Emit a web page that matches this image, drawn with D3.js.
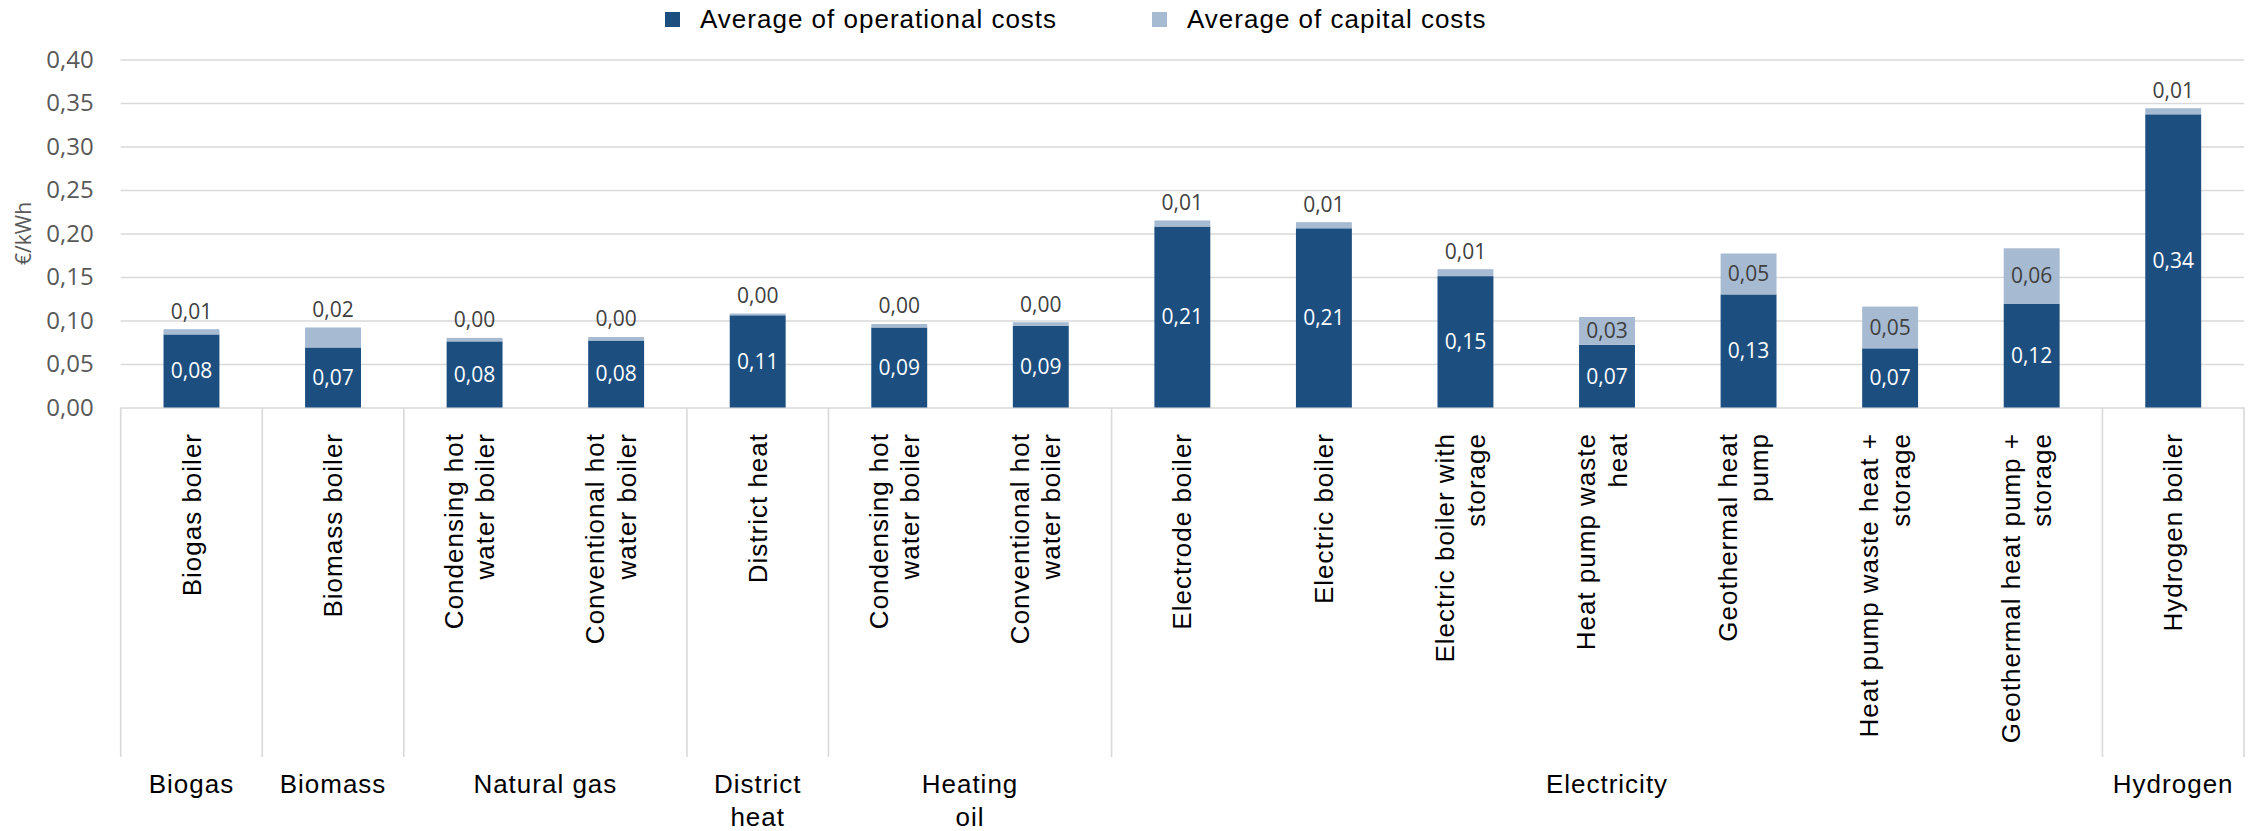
<!DOCTYPE html>
<html>
<head>
<meta charset="utf-8">
<script src="https://cdn.jsdelivr.net/npm/d3@7"></script>
<style>
  body { margin: 0; background: #fff; }
  svg { display: block; }
</style>
</head>
<body>
<svg id="svg"></svg>
<script>
// values (€/kWh)
var catLabels = [
  ["Biogas boiler"],
  ["Biomass boiler"],
  ["Condensing hot", "water boiler"],
  ["Conventional hot", "water boiler"],
  ["District heat"],
  ["Condensing hot", "water boiler"],
  ["Conventional hot", "water boiler"],
  ["Electrode boiler"],
  ["Electric boiler"],
  ["Electric boiler with", "storage"],
  ["Heat pump waste", "heat"],
  ["Geothermal heat", "pump"],
  ["Heat pump waste heat +", "storage"],
  ["Geothermal heat pump +", "storage"],
  ["Hydrogen boiler"]
];
var opCosts  = [0.084, 0.069, 0.076, 0.077, 0.106, 0.092, 0.094, 0.208, 0.206, 0.151, 0.072, 0.130, 0.068, 0.119, 0.337];
var capCosts = [0.006, 0.023, 0.004, 0.004, 0.002, 0.004, 0.004, 0.007, 0.007, 0.008, 0.032, 0.047, 0.048, 0.064, 0.007];

var groupLabels = [["Biogas"], ["Biomass"], ["Natural gas"], ["District", "heat"], ["Heating", "oil"], ["Electricity"], ["Hydrogen"]];
var groupSizes  = [1, 1, 2, 1, 2, 7, 1];

var yTicks = [0, 0.05, 0.10, 0.15, 0.20, 0.25, 0.30, 0.35, 0.40];
var seriesNames = ["Average of operational costs", "Average of capital costs"];

var width = 2255, height = 831;
var darkBlue = "#1d4e80", lightBlue = "#a6bad2", gridCol = "#d9d9d9";
var arial = "'Liberation Sans', Arial, sans-serif";
var segoe = "'Open Sans', 'Segoe UI', sans-serif";

var svg = d3.select("#svg").attr("width", width).attr("height", height);

var plotLeft = 120.7, plotRight = 2244;

var x = d3.scaleBand()
    .domain(d3.range(catLabels.length))
    .range([plotLeft, plotRight])
    .paddingInner(0.605)
    .paddingOuter(0.3025);

var y = d3.scaleLinear().domain([0, 0.4]).range([407.5, 59.5]);

var fmt = function(v){ return d3.format(".2f")(v).replace(".", ","); };

// gridlines + y tick labels
var yAxis = svg.append("g")
    .attr("transform", "translate(" + plotLeft + ",0)")
    .call(d3.axisLeft(y).tickValues(yTicks).tickFormat(fmt)
      .tickSize(-(plotRight - plotLeft)).tickPadding(27));
yAxis.select(".domain").remove();
yAxis.selectAll(".tick line").attr("stroke", gridCol).attr("stroke-width", 1.6);
yAxis.selectAll(".tick text")
    .attr("fill", "#595959")
    .style("font-family", segoe)
    .style("font-size", "24px");

// y title
svg.append("text")
    .attr("transform", "translate(24," + y(0.2) + ") rotate(-90)")
    .attr("text-anchor", "middle")
    .attr("dy", "0.35em")
    .attr("fill", "#595959")
    .style("font-family", segoe)
    .style("font-size", "21px")
    .text("€/kWh");

// group separators below the axis
var bounds = [0].concat(Array.from(d3.cumsum(groupSizes)));
svg.append("g").selectAll("line")
  .data(bounds)
  .enter().append("line")
    .attr("x1", function(k){ return plotLeft + k * x.step(); })
    .attr("x2", function(k){ return plotLeft + k * x.step(); })
    .attr("y1", y(0))
    .attr("y2", 757)
    .attr("stroke", gridCol)
    .attr("stroke-width", 1.6);

// stacked bars
var rows = opCosts.map(function(v, i){ return { i: i, op: v, cap: capCosts[i] }; });
var stack = d3.stack().keys(["op", "cap"])(rows);
var colors = [darkBlue, lightBlue];

var layer = svg.append("g").selectAll("g")
  .data(stack)
  .enter().append("g")
    .attr("fill", function(d, i){ return colors[i]; });

layer.selectAll("rect")
  .data(function(d){ return d; })
  .enter().append("rect")
    .attr("x", function(d){ return x(d.data.i); })
    .attr("width", x.bandwidth())
    .attr("y", function(d){ return y(d[1]); })
    .attr("height", function(d){ return y(d[0]) - y(d[1]); });

// value labels
svg.append("g").selectAll("text")
  .data(stack[0])
  .enter().append("text")
    .attr("x", function(d){ return x(d.data.i) + x.bandwidth() / 2; })
    .attr("y", function(d){ return (y(d[0]) + y(d[1])) / 2; })
    .attr("dy", "0.35em")
    .attr("text-anchor", "middle")
    .attr("fill", "#fff")
    .style("font-family", segoe)
    .style("font-size", "21px")
    .text(function(d){ return fmt(d.data.op); });

svg.append("g").selectAll("text")
  .data(stack[1])
  .enter().append("text")
    .attr("x", function(d){ return x(d.data.i) + x.bandwidth() / 2; })
    .attr("y", function(d){
      var h = y(d[0]) - y(d[1]);
      if (h < 24) return y(d[1]) - 18;
      return (y(d[0]) + y(d[1])) / 2;
    })
    .attr("dy", "0.35em")
    .attr("text-anchor", "middle")
    .attr("fill", "#404040")
    .style("font-family", segoe)
    .style("font-size", "21px")
    .text(function(d){ return fmt(d.data.cap); });

// rotated category labels
var cat = svg.append("g").selectAll("text")
  .data(catLabels)
  .enter().append("text")
    .attr("transform", function(d, i){
      return "translate(" + (x(i) + x.bandwidth() / 2) + ",433) rotate(-90)";
    })
    .attr("text-anchor", "end")
    .attr("fill", "#000")
    .style("font-family", arial)
    .style("font-size", "26px")
    .style("letter-spacing", "1px");

cat.each(function(lines){
  var t = d3.select(this);
  var first = lines.length == 1 ? 0.35 : 0.15 - 0.6 * (lines.length - 1);
  lines.forEach(function(s, j){
    t.append("tspan")
      .attr("x", 0)
      .attr("dy", (j == 0 ? first : 1.2) + "em")
      .text(s);
  });
});

// group labels
var grp = svg.append("g").selectAll("text")
  .data(groupLabels)
  .enter().append("text")
    .attr("text-anchor", "middle")
    .attr("fill", "#000")
    .style("font-family", arial)
    .style("font-size", "26px")
    .style("letter-spacing", "1px");

grp.each(function(lines, g){
  var cx = plotLeft + (bounds[g] + bounds[g + 1]) / 2 * x.step();
  var t = d3.select(this);
  lines.forEach(function(s, j){
    t.append("tspan")
      .attr("x", cx)
      .attr("y", 793 + j * 33)
      .text(s);
  });
});

// legend
var legX = [665, 1152];
var leg = svg.append("g").selectAll("g")
  .data(seriesNames)
  .enter().append("g")
    .attr("transform", function(d, i){ return "translate(" + legX[i] + ",12)"; });
leg.append("rect")
    .attr("width", 15).attr("height", 15)
    .attr("fill", function(d, i){ return colors[i]; });
leg.append("text")
    .attr("x", 35).attr("y", 16)
    .attr("fill", "#000")
    .style("font-family", arial)
    .style("font-size", "26px")
    .style("letter-spacing", "1px")
    .text(function(d){ return d; });
</script>
</body>
</html>
